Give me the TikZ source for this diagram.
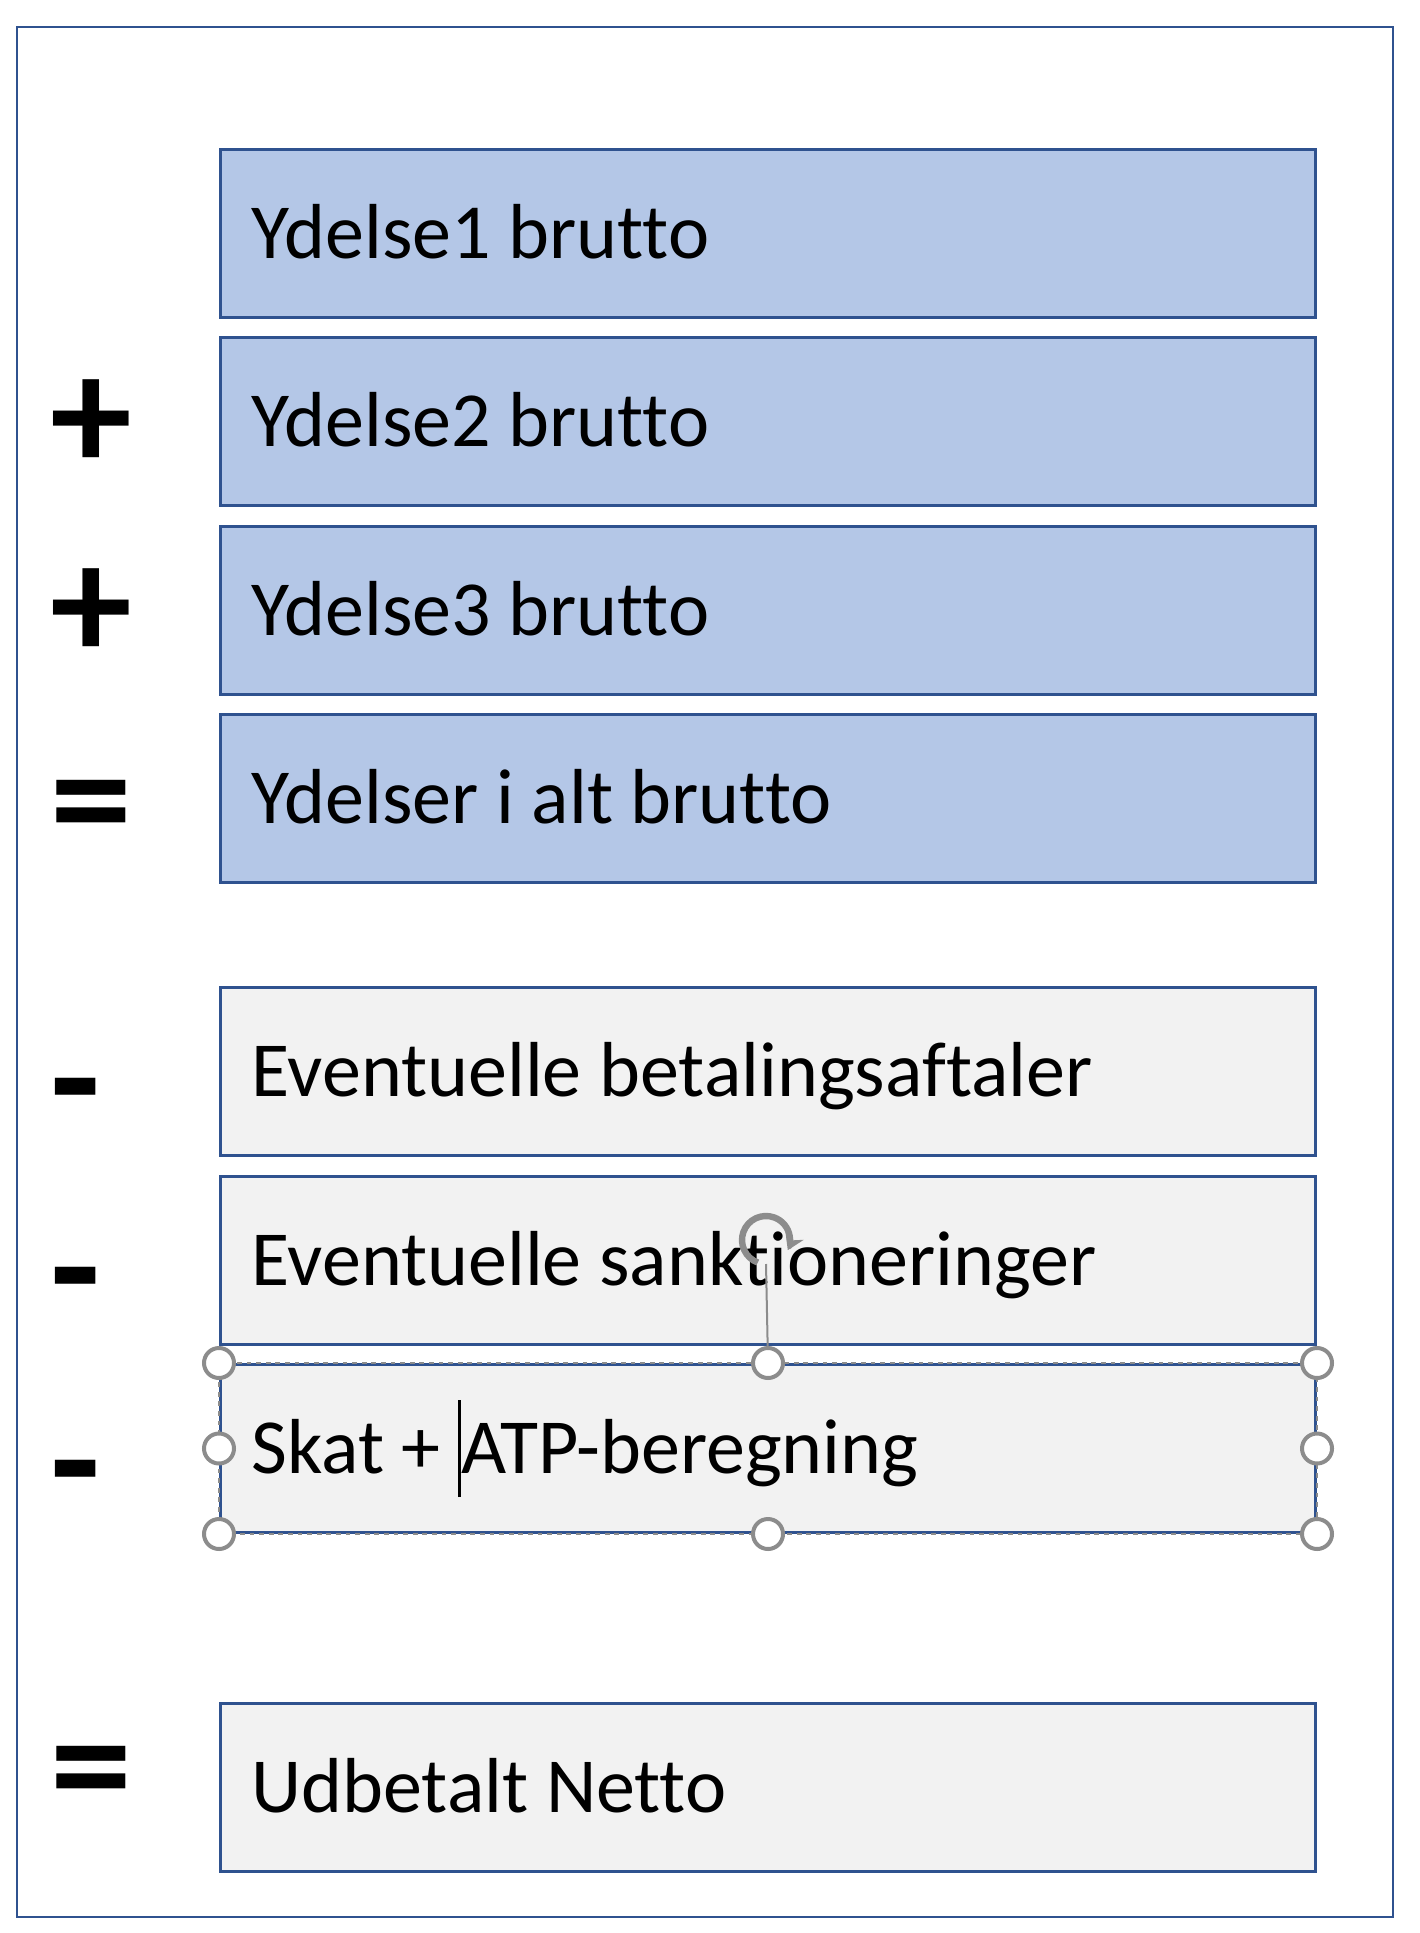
\documentclass[tikz,border=0pt]{standalone}
\usepackage{fontspec}
\setmainfont{Carlito}[Ligatures=NoCommon]
\usetikzlibrary{arrows.meta}
\definecolor{boxblue}{HTML}{B4C7E7}
\definecolor{boxline}{HTML}{2F528F}
\definecolor{boxgray}{HTML}{F2F2F2}
\definecolor{handlegray}{HTML}{8C8C8C}
\tikzset{
  sheet/.style={draw=boxline, line width=0.7pt},
  post/.style={rectangle, draw=boxline, line width=0.75pt, anchor=north west,
    minimum height=42pt, text width=258.25pt, inner xsep=7.75pt, inner ysep=0pt,
    align=flush left, text height=12.56pt, text depth=0pt,
    font=\fontsize{19.5}{23}\selectfont},
  brutto/.style={post, fill=boxblue},
  fradrag/.style={post, fill=boxgray},
  sign/.style={anchor=base, inner sep=0pt, font=\fontsize{41}{48}\selectfont\bfseries},
  handle/.style={circle, draw=handlegray, fill=white, line width=1pt,
    minimum size=7.5pt, inner sep=0pt},
  selection/.style={draw=handlegray, line width=0.6pt, dash pattern=on 1.2pt off 1.2pt},
  rotstem/.style={draw=handlegray, line width=0.5pt},
  rotring/.style={draw=handlegray, line width=1.6pt, -{Stealth[length=4pt,width=5pt]}},
}
\begin{document}
\begin{tikzpicture}[x=0.25pt, y=-0.25pt]
  \useasboundingbox (0,0) rectangle (1420,1933);
  \draw[sheet] (17,27) rectangle (1393,1917);
  % boxes
  \node[brutto] (y1) at (219,148) {Ydelse1 brutto};
  \node[brutto] (y2) at (219,336) {Ydelse2 brutto};
  \node[brutto] (y3) at (219,525) {Ydelse3 brutto};
  \node[brutto] (yialt) at (219,713) {Ydelser i alt brutto};
  \node[fradrag] (aftaler) at (219,986) {Eventuelle betalingsaftaler};
  \node[fradrag] (sanktion) at (219,1175) {Eventuelle sanktioneringer};
  \node[fradrag] (skat) at (219,1363) {Skat + \rule[-0.3em]{0.75pt}{1.25em}ATP-beregning};
  \node[fradrag] (netto) at (219,1702) {Udbetalt Netto};
  % signs
  \node[sign] (plus2) at (91,471) {+};
  \node[sign] (plus3) at (91,660) {+};
  \node[sign] (lig4) at (91,854) {=};
  \node[sign] (minus5) at (76,1133) {-};
  \node[sign] (minus6) at (76,1322) {-};
  \node[sign] (minus7) at (76,1515) {-};
  \node[sign] (lig8) at (91,1819) {=};
  % selection
  \draw[selection] (skat.north west) rectangle (skat.south east);
  \coordinate (rot) at (766,1240);
  \draw[rotstem] (skat.north) -- ([yshift=-6pt]rot);
  \draw[rotring] ([shift={(250:6pt)}]rot) arc[start angle=250, end angle=-25, radius=6pt];
  \node[handle] (hnw) at (skat.north west) {};
  \node[handle] (hn) at (skat.north) {};
  \node[handle] (hne) at (skat.north east) {};
  \node[handle] (hw) at (skat.west) {};
  \node[handle] (he) at (skat.east) {};
  \node[handle] (hsw) at (skat.south west) {};
  \node[handle] (hs) at (skat.south) {};
  \node[handle] (hse) at (skat.south east) {};
\end{tikzpicture}
\end{document}
